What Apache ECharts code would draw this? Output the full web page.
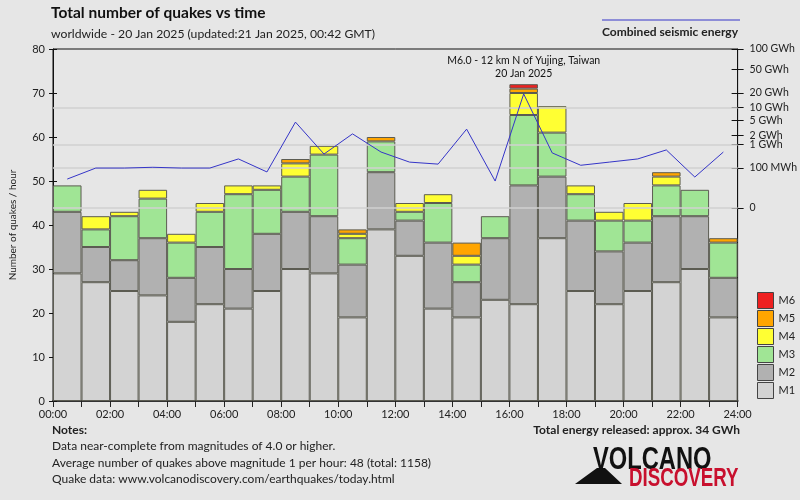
<!DOCTYPE html>
<html><head><meta charset="utf-8">
<script src="https://cdn.jsdelivr.net/npm/echarts@6/dist/echarts.min.js"></script>
<style>html,body{margin:0;padding:0;background:#e6e6e6}#c{width:800px;height:500px}</style>
</head><body><div id="c"></div>
<script>
const hours = ['00:00','01:00','02:00','03:00','04:00','05:00','06:00','07:00','08:00','09:00','10:00','11:00','12:00','13:00','14:00','15:00','16:00','17:00','18:00','19:00','20:00','21:00','22:00','23:00'];
const xTickLabels = ['00:00','02:00','04:00','06:00','08:00','10:00','12:00','14:00','16:00','18:00','20:00','22:00','24:00'];
const m1 = [29,27,25,24,18,22,21,25,30,29,19,39,33,21,19,23,22,37,25,22,25,27,30,19];
const m2 = [14,8,7,13,10,13,9,13,13,13,12,13,8,15,8,14,27,14,16,12,11,15,12,9];
const m3 = [6,4,10,9,8,8,17,10,8,14,6,7,2,9,4,5,16,10,6,7,5,7,6,8];
const m4 = [0,3,1,2,2,2,2,1,3,2,1,0,2,2,2,0,5,6,2,2,4,2,0,0];
const m5 = [0,0,0,0,0,0,0,0,1,0,1,1,0,0,3,0,1,0,0,0,0,1,0,1];
const m6 = [0,0,0,0,0,0,0,0,0,0,0,0,0,0,0,0,1,0,0,0,0,0,0,0];
// combined seismic energy per hour, GWh
const energyGWh = [0.02,0.10,0.10,0.11,0.10,0.10,0.28,0.06,4.6,0.45,2.2,0.54,0.20,0.16,3.0,0.014,19,0.50,0.14,0.20,0.28,0.65,0.028,0.54];
const energyTicks = [0,0.1,1,2,5,10,20,50,100];
const energyTickLabels = ['0','100 MWh','1 GWh','2 GWh','5 GWh','10 GWh','20 GWh','50 GWh','100 GWh'];
const energyGrid = [0,0.1,1,10];
const mags = ['M1','M2','M3','M4','M5','M6'];
const magColors = ['#d3d3d3','#b1b1b1','#a0e595','#ffff33','#ffa500','#ee2020'];
const quakeCounts = [m1,m2,m3,m4,m5,m6];
const eventText = 'M6.0 - 12 km N of Yujing, Taiwan\n20 Jan 2025';

const FONT = 'Lato';
const root = v => Math.pow(v, 0.2);
const gridL = 52, gridR = 60, gridT = 49, gridB = 99;
// energy axis: 0 sits at y=208, 100 GWh at top of plot
const zeroY = 208;
const eMax = root(100);
const pxPerUnit = (zeroY - gridT) / eMax;
const eMin = -((500 - gridB) - zeroY) / pxPerUnit;

const chart = echarts.init(document.getElementById('c'), null, {renderer:'canvas'});
const series = [{
  name: 'grid', type: 'line', xAxisIndex: 0, yAxisIndex: 1, data: hours.map(() => '-'),
  z: 1, silent: true, animation: false,
  markLine: {symbol: 'none', silent: true, animation: false, label: {show: false},
             lineStyle: {color: '#d0d0d0', width: 1.5, type: 'solid'},
             data: energyGrid.map(v => ({yAxis: root(v)}))}
}];
mags.forEach((m, i) => series.push({
  name: m, type: 'bar', stack: 'q', xAxisIndex: 0, yAxisIndex: 0,
  barCategoryGap: '0%', z: 2,
  data: quakeCounts[i].map(v => v === 0 ? '-' : v),
  itemStyle: {color: magColors[i], borderColor: '#5c5c52', borderWidth: 1},
  emphasis: {disabled: true},
  animation: false
}));
series[6].markPoint = {
  symbol: 'circle', symbolSize: 0, silent: true,
  data: [{coord: [16, m1[16]+m2[16]+m3[16]+m4[16]+m5[16]+m6[16]]}],
  label: {show: true, position: 'top', distance: 4, formatter: eventText, color: '#111',
          fontFamily: FONT, fontSize: 10.5, lineHeight: 13, align: 'center'}
};
series.push({
  name: 'Combined seismic energy', type: 'line', xAxisIndex: 0, yAxisIndex: 1,
  data: energyGWh.map(root), symbol: 'none', z: 5,
  lineStyle: {color: '#3535c8', width: 1}, animation: false
});

const labelFor = v => { let best = 0; energyTicks.forEach((t, i) => { if (Math.abs(root(t) - v) < Math.abs(root(energyTicks[best]) - v)) best = i; }); return energyTickLabels[best]; };

chart.setOption({
  backgroundColor: '#e6e6e6',
  animation: false,
  textStyle: {fontFamily: FONT},
  title: {
    text: 'Total number of quakes vs time',
    subtext: 'worldwide - 20 Jan 2025 (updated:21 Jan 2025, 00:42 GMT)',
    left: 46, top: 0, itemGap: 7,
    textStyle: {fontFamily: FONT, fontSize: 15.5, fontWeight: 'bold', color: '#111'},
    subtextStyle: {fontFamily: FONT, fontSize: 12.2, color: '#222'}
  },
  grid: {left: gridL, right: gridR, top: gridT, bottom: gridB, show: true, borderColor: '#111', borderWidth: 1, backgroundColor: 'transparent'},
  legend: {
    data: mags.slice().reverse(), orient: 'vertical', left: 752, top: 287,
    itemWidth: 16, itemHeight: 16, itemGap: 1, icon: 'rect',
    itemStyle: {borderColor: '#444', borderWidth: 1},
    textStyle: {fontFamily: FONT, fontSize: 11, color: '#222'},
    selectedMode: false
  },
  xAxis: [
    {type: 'category', data: hours, boundaryGap: true, position: 'bottom',
     axisLine: {show: true, lineStyle: {color: '#333', width: 2}},
     axisTick: {show: true, interval: 0, length: 6, lineStyle: {color: '#222'}},
     axisLabel: {show: false}, splitLine: {show: false}},
    {type: 'value', min: 0, max: 24, interval: 2, position: 'bottom',
     axisLine: {show: false}, axisTick: {show: false}, splitLine: {show: false},
     axisLabel: {margin: 8, fontFamily: FONT, fontSize: 11, color: '#222',
                 formatter: v => xTickLabels[v / 2]}}
  ],
  yAxis: [
    {type: 'value', min: 0, max: 80, interval: 10, position: 'left',
     name: 'Number of quakes / hour', nameLocation: 'middle', nameGap: 35, nameRotate: 90,
     nameTextStyle: {fontFamily: FONT, fontSize: 10, color: '#222'},
     axisLine: {show: true, lineStyle: {color: '#111'}},
     axisTick: {show: true, length: 4, lineStyle: {color: '#111'}},
     axisLabel: {fontFamily: FONT, fontSize: 11, color: '#222', margin: 8},
     splitLine: {show: false}},
    {type: 'value', min: eMin, max: eMax, position: 'right',
     axisLine: {show: true, lineStyle: {color: '#111'}},
     axisTick: {show: true, length: 6, customValues: energyTicks.map(root), lineStyle: {color: '#111'}},
     axisLabel: {show: true, customValues: energyTicks.map(root), margin: 12,
                 fontFamily: FONT, fontSize: 10.5, color: '#222', formatter: labelFor},
     splitLine: {show: false}},
    {type: 'value', min: eMin, max: eMax, position: 'right',
     axisLine: {show: false}, axisLabel: {show: false},
     axisTick: {show: true, inside: true, length: 6, customValues: energyTicks.map(root), lineStyle: {color: '#111'}},
     splitLine: {show: false}},
    {type: 'value', min: 0, max: 80, interval: 10, position: 'left',
     axisLine: {show: false}, axisLabel: {show: false},
     axisTick: {show: true, inside: true, length: 4, lineStyle: {color: '#111'}},
     splitLine: {show: false}}
  ],
  series: series,
  graphic: [
    {type: 'line', shape: {x1: 602, y1: 20, x2: 740, y2: 20}, style: {stroke: '#3535c8', lineWidth: 1}},
    {type: 'text', left: 602, top: 26, style: {text: 'Combined seismic energy', font: 'bold 12px Lato', fill: '#222'}},
    {type: 'text', left: 52, top: 424, style: {text: 'Notes:', font: 'bold 12px Lato', fill: '#222'}},
    {type: 'text', left: 52, top: 440, style: {text: 'Data near-complete from magnitudes of 4.0 or higher.', font: '12px Lato', fill: '#222'}},
    {type: 'text', left: 52, top: 457, style: {text: 'Average number of quakes above magnitude 1 per hour: 48 (total: 1158)', font: '12px Lato', fill: '#222'}},
    {type: 'text', left: 52, top: 473, style: {text: 'Quake data: www.volcanodiscovery.com/earthquakes/today.html', font: '12px Lato', fill: '#222'}},
    {type: 'text', right: 60, top: 424, style: {text: 'Total energy released: approx. 34 GWh', font: 'bold 12px Lato', fill: '#222'}},
    {type: 'polygon', shape: {points: [[575,484],[597,468],[605,468],[622,484]]}, style: {fill: '#111'}},
    {type: 'text', x: 593, y: 444, scaleX: 0.74, style: {text: 'VOLCANO', font: 'bold 32px "Liberation Sans Narrow", "Liberation Sans"', fill: '#111'}},
    {type: 'text', x: 629, y: 466, scaleX: 0.72, style: {text: 'DISCOVERY', font: 'bold 26px "Liberation Sans Narrow", "Liberation Sans"', fill: '#c8102e'}}
  ]
});
</script></body></html>
